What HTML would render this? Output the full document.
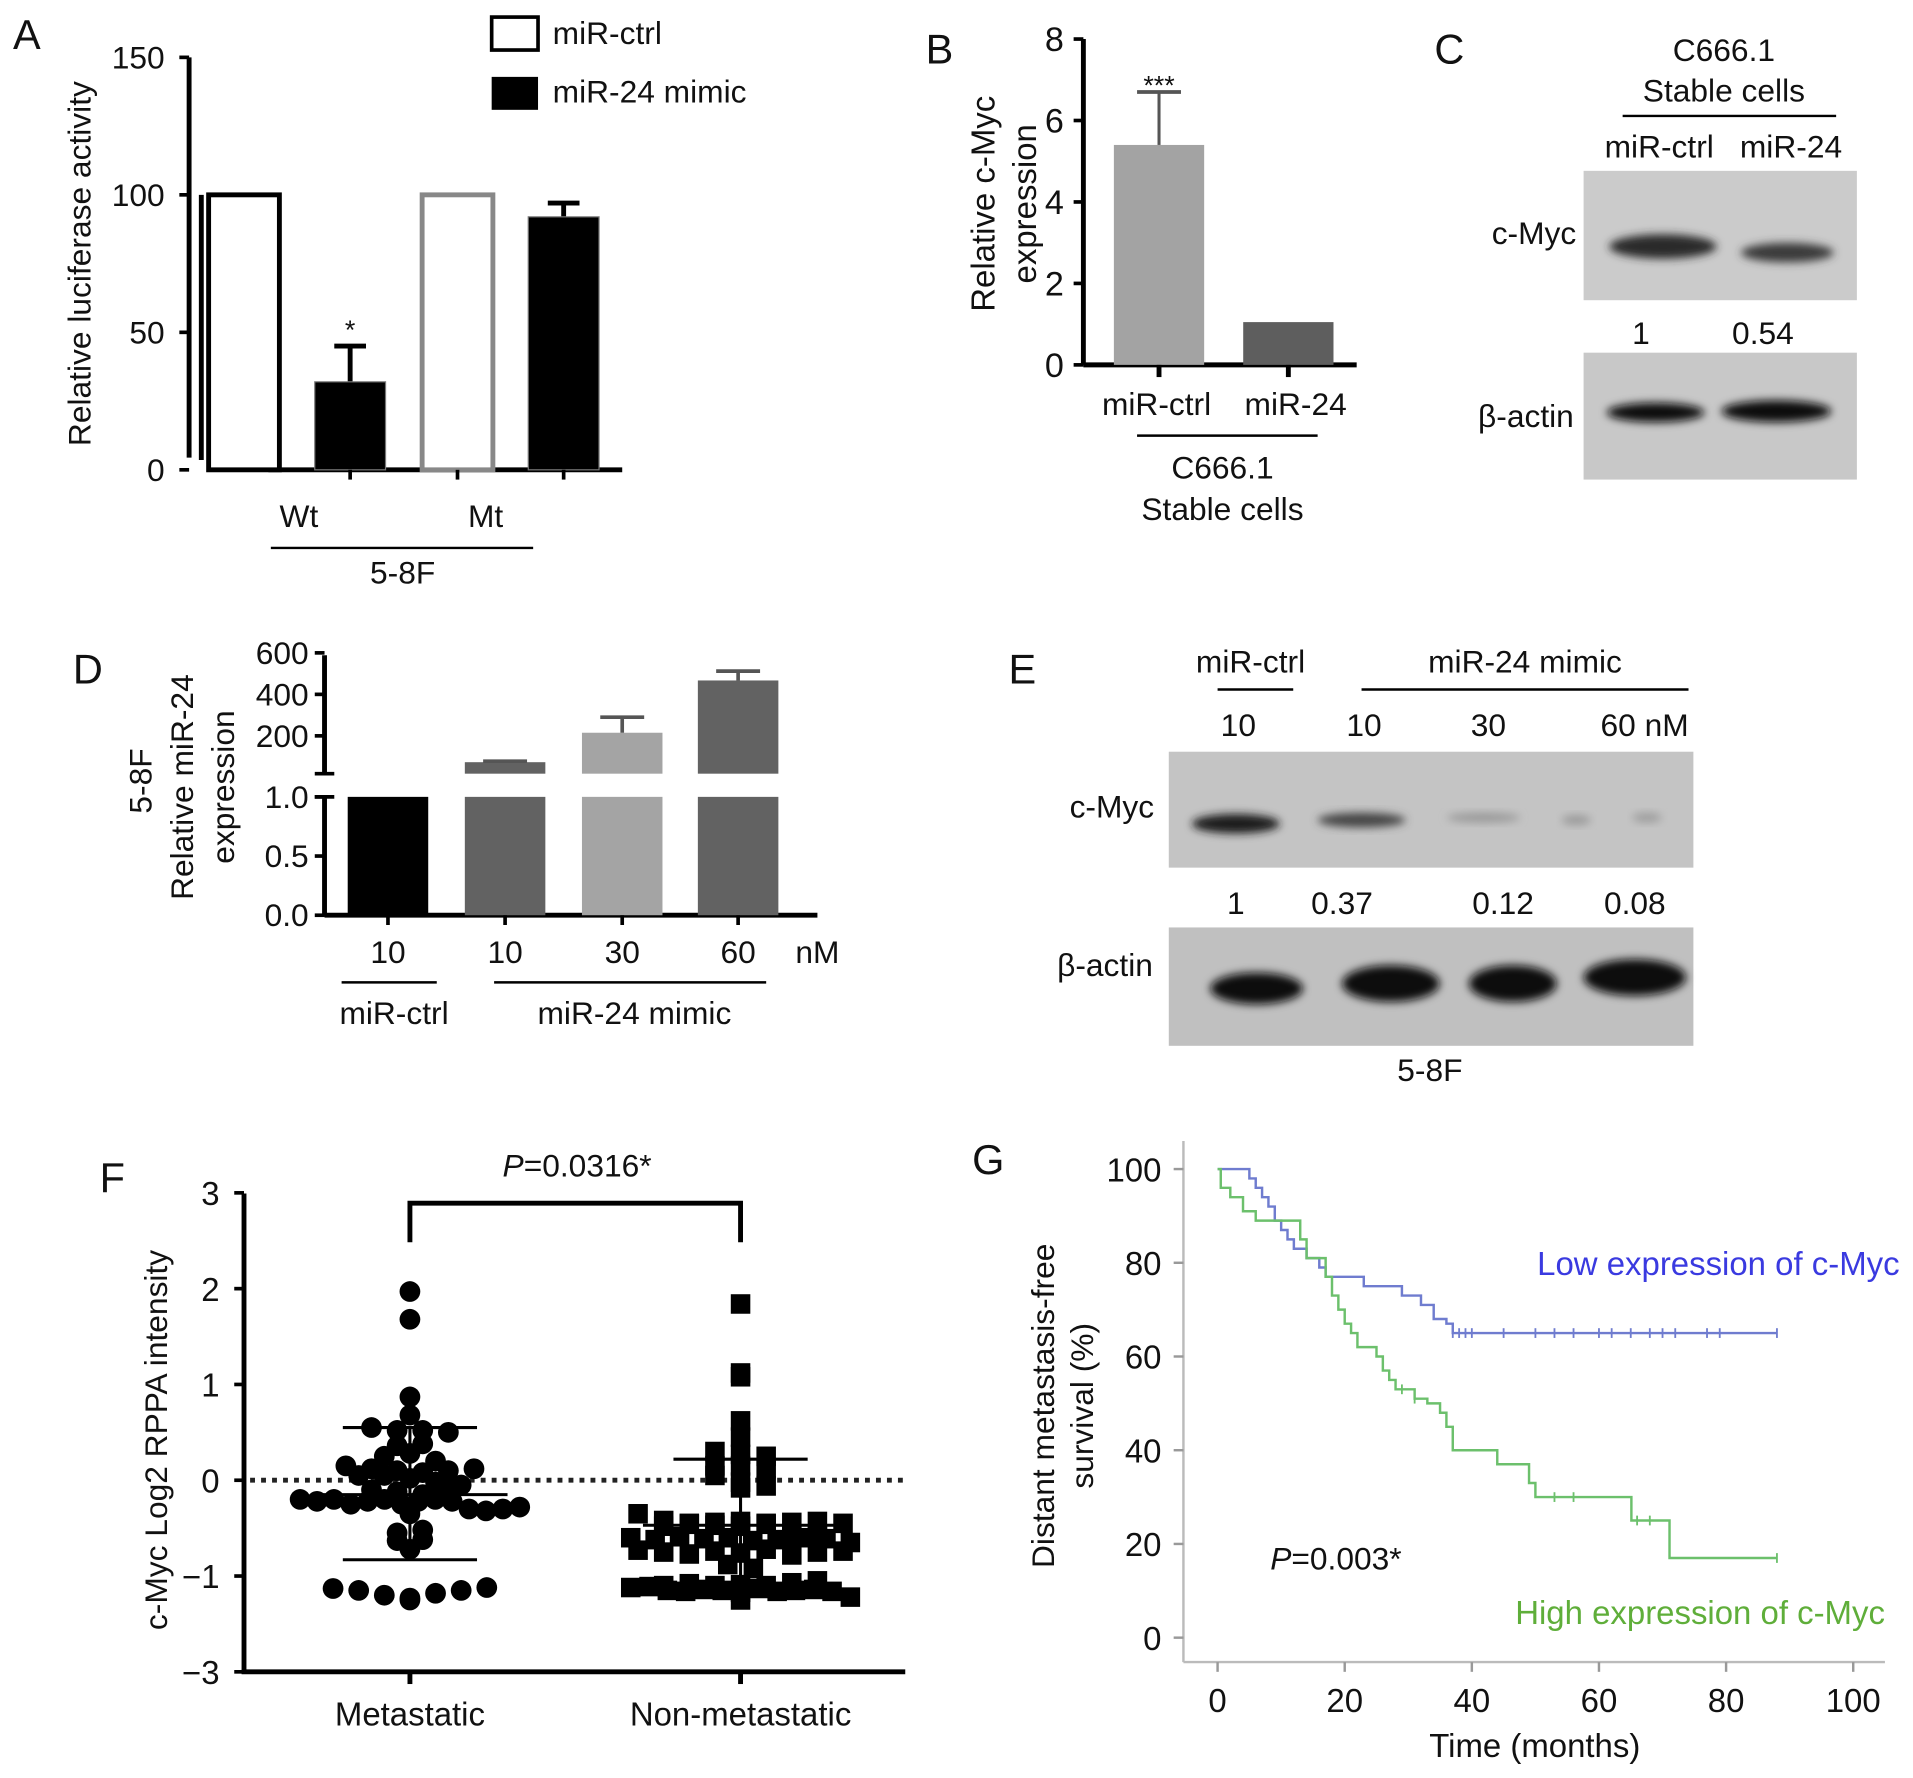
<!DOCTYPE html>
<html><head><meta charset="utf-8">
<style>
html,body{margin:0;padding:0;background:#fff;}
svg{display:block;}
text{font-family:"Liberation Sans",Arial,sans-serif;fill:#111;}
</style></head>
<body>
<svg id="fig" width="1913" height="1778" viewBox="0 0 1568 1457" preserveAspectRatio="none" xmlns="http://www.w3.org/2000/svg">
<defs>
<filter id="blur3" x="-20%" y="-50%" width="140%" height="200%"><feGaussianBlur stdDeviation="3.5"/></filter>
</defs>
<g id="root"></g>
</svg>
<script>
// ---------- Panel A data ----------
const aCategories = ["Wt", "Mt"];
const aCtrl = [100, 100];
const aMimic = [32, 92];
const aMimicErr = [45, 97];
const aTicks = [0, 50, 100, 150];
// ---------- Panel B data ----------
const bCategories = ["miR-ctrl", "miR-24"];
const bValues = [5.4, 1.05];
const bErr = [6.7, null];
const bTicks = [0, 2, 4, 6, 8];
// ---------- Panel D data ----------
const dLabels = ["10", "10", "30", "60"];
const dValues = [1.0, 73, 215, 467];
const dErr = [null, 78, 290, 512];
const dTicksLow = [0.0, 0.5, 1.0];
const dTicksHigh = [200, 400, 600];
// ---------- Panel F data ----------
const fGroups = ["Metastatic", "Non-metastatic"];
const fMetastatic = [1.97,1.68,0.87,0.68,0.55,0.52,0.52,0.5,0.36,0.38,0.25,0.28,0.2,0.15,0.12,0.1,0.08,0.05,0.1,0.12,0.05,0.02,-0.02,-0.05,-0.1,-0.12,-0.15,-0.1,-0.2,-0.22,-0.2,-0.25,-0.22,-0.2,-0.25,-0.22,-0.2,-0.22,-0.3,-0.32,-0.35,-0.3,-0.28,-0.55,-0.52,-0.63,-0.62,-0.72,-1.13,-1.15,-1.2,-1.25,-1.23,-1.18,-1.15,-1.12];
const fNonMetastatic = [1.84,1.12,1.08,0.62,0.45,0.3,0.27,0.25,0.15,0.15,0.12,0.05,-0.02,-0.06,-0.08,-0.35,-0.42,-0.45,-0.48,-0.44,-0.46,-0.43,-0.47,-0.45,-0.44,-0.48,-0.46,-0.43,-0.45,-0.58,-0.6,-0.62,-0.59,-0.61,-0.6,-0.63,-0.58,-0.62,-0.6,-0.61,-0.65,-0.73,-0.75,-0.77,-0.74,-0.76,-0.72,-0.78,-0.75,-0.74,-0.88,-0.92,-1.1,-1.08,-1.12,-1.1,-1.09,-1.11,-1.1,-1.07,-1.05,-1.15,-1.16,-1.14,-1.15,-1.17,-1.13,-1.16,-1.15,-1.14,-1.16,-1.25,-1.22];
const fMean = [-0.15, -0.47];
const fSdHigh = [0.55, 0.22];
const fSdLow = [-0.83, -1.17];
const fTicks = [3, 2, 1, 0, -1];
// ---------- Panel G data ----------
const gLowT = [0,4,5,6,7,8,9,10,11,12,14,16,17,22,23,28,29,32,34,36,37,88];
const gLowS = [100,100,98,96,94,92,89,87,85,83,81,79,77,77,75,75,73,71,68,67,65,65];
const gHighT = [0,0.5,2,4,6,12,13,14,17,18,19,20,21,22,25,26,27,28,31,33,35,36,37,43,44,48,49,50,65,65.1,71,71.1,88];
const gHighS = [100,96,94,91,89,89,85,81,77,73,70,67,65,62,60,57,55,53,51,50,48,45,40,40,37,37,33,30,30,25,25,17,17];
const gLowCensor = [37,38,39,40,45,50,53,56,60,62,65,68,70,72,77,79,88];
const gHighCensor = [29,31,53,56,66,68,88];
const gXTicks = [0,20,40,60,80,100];
const gYTicks = [0,20,40,60,80,100];

const NS = "http://www.w3.org/2000/svg";
const root = document.getElementById("root");
function el(tag, attrs, parent, txt){
  const e = document.createElementNS(NS, tag);
  for (const k in attrs) e.setAttribute(k, attrs[k]);
  if (txt !== undefined) e.textContent = txt;
  (parent || root).appendChild(e);
  return e;
}
function grp(name){ const g = el("g", {});   return g; }
function txt(g, x, y, s, size, anchor, extra){
  const a = {x:x, y:y, "font-size":size, "text-anchor":anchor||"middle"};
  if (extra) for (const k in extra) a[k]=extra[k];
  return el("text", a, g, s);
}
function line(g,x1,y1,x2,y2,w,c){ return el("line",{x1:x1,y1:y1,x2:x2,y2:y2,stroke:c||"#000","stroke-width":w||3},g); }

// ================= Panel A =================
(function(){
  const g = grp("panel-a");
  const y = v => 385 - (v/150)*338;
  txt(g, 22, 40, "A", 34);
  const ax = 155;
  line(g, ax, y(150), ax, y(0)-10, 4);
  line(g, 165, y(100), 165, y(0)-8, 4);
  aTicks.forEach(t => {
    line(g, ax-8, y(t), ax, y(t), 3);
    const lb = txt(g, 135, y(t)+9, String(t), 26, "end");
    
    
  });
  line(g, 220, 385, 510, 385, 4);
  const yt = txt(g, 0, 0, "Relative luciferase activity", 26, "middle", {transform:"translate(74,216) rotate(-90)"});
  
  
  const groupX = [200, 375];
  aCategories.forEach((c, i) => {
    const cx = groupX[i];
    const ctrl = el("rect", {x:cx-29, y:y(aCtrl[i]), width:58, height:y(0)-y(aCtrl[i]), fill:"#fff", stroke: i===0?"#000":"#888", "stroke-width":4}, g);
    
    
    const mx = cx + 87;
    el("line",{x1:mx,y1:y(aMimic[i]),x2:mx,y2:y(aMimicErr[i]),stroke:"#000","stroke-width":4},g);
    line(g, mx-13, y(aMimicErr[i]), mx+13, y(aMimicErr[i]), 4);
    const m = el("rect", {x:mx-29, y:y(aMimic[i]), width:58, height:y(0)-y(aMimic[i]), fill:"#000", stroke:"#777","stroke-width":1}, g);
    
    
    line(g, cx+87, 385, cx+87, 393, 3);
    const cl = txt(g, i===0?245:398, 432, c, 26);
    
    
  });
  line(g, 375, 385, 375, 393, 3);
  txt(g, 287, 278, "*", 22);
  line(g, 222, 449, 437, 449, 2);
  txt(g, 330, 478, "5-8F", 26);
  const lg = el("g", {}, g);
  
  
  el("rect",{x:403,y:14,width:38,height:27,fill:"#fff",stroke:"#000","stroke-width":3},lg);
  el("rect",{x:403,y:63,width:38,height:27,fill:"#000"},lg);
  txt(lg, 453, 36, "miR-ctrl", 26, "start");
  txt(lg, 453, 84, "miR-24 mimic", 26, "start");
})();

// ================= Panel B =================
(function(){
  const g = grp("panel-b");
  const y = v => 299 - (v/8)*267;
  txt(g, 770, 52, "B", 34);
  line(g, 888, y(8), 888, y(0), 4);
  bTicks.forEach(t => { line(g, 880, y(t), 888, y(t), 3); txt(g, 872, y(t)+10, String(t), 28, "end"); });
  line(g, 888, 299, 1112, 299, 4);
  const colors = ["#a3a3a3", "#5e5e5e"];
  const cx = [950, 1056];
  bCategories.forEach((c,i)=>{
    const r = el("rect",{x:cx[i]-37,y:y(bValues[i]),width:74,height:y(0)-y(bValues[i]),fill:colors[i]},g);
    
    
    if (bErr[i]!==null){ line(g,cx[i],y(bValues[i]),cx[i],y(bErr[i]),2.5,"#555"); line(g,cx[i]-18,y(bErr[i]),cx[i]+18,y(bErr[i]),3,"#555"); txt(g,cx[i],y(bErr[i])+2,"***",22); }
    line(g, cx[i], 299, cx[i], 309, 4);
    txt(g, i===0?948:1062, 340, c, 26);
  });
  el("text",{x:0,y:0,"font-size":27,"text-anchor":"middle",transform:"translate(815,167) rotate(-90)"},g,"Relative c-Myc");
  el("text",{x:0,y:0,"font-size":27,"text-anchor":"middle",transform:"translate(849,167) rotate(-90)"},g,"expression");
  line(g, 932, 357, 1080, 357, 2);
  txt(g, 1002, 392, "C666.1", 26);
  txt(g, 1002, 426, "Stable cells", 26);
})();

// ================= Panel C (western blot) =================
(function(){
  const g = grp("panel-c");
  txt(g, 1188, 52, "C", 34);
  txt(g, 1413, 50, "C666.1", 26);
  txt(g, 1413, 83, "Stable cells", 26);
  line(g, 1330, 95, 1505, 95, 2);
  txt(g, 1360, 129, "miR-ctrl", 26);
  txt(g, 1468, 129, "miR-24", 26);
  const b1 = el("rect",{x:1298,y:140,width:224,height:106,fill:"#cbcbcb"},g);
   
  el("ellipse",{cx:1363,cy:202,rx:44,ry:10,fill:"#2a2a2a",filter:"url(#blur3)"},g);
  el("ellipse",{cx:1465,cy:207,rx:38,ry:8,fill:"#3a3a3a",filter:"url(#blur3)"},g);
  txt(g, 1292, 200, "c-Myc", 26, "end");
  txt(g, 1345, 282, "1", 26); txt(g, 1445, 282, "0.54", 26);
  const b2 = el("rect",{x:1298,y:289,width:224,height:104,fill:"#c8c8c8"},g);
   
  el("ellipse",{cx:1357,cy:338,rx:40,ry:8,fill:"#111",filter:"url(#blur3)"},g);
  el("ellipse",{cx:1456,cy:337,rx:45,ry:9,fill:"#111",filter:"url(#blur3)"},g);
  txt(g, 1290, 350, "β-actin", 26, "end");
})();

// ================= Panel D =================
(function(){
  const g = grp("panel-d");
  const yLow = v => 750 - (v/1.0)*97;
  const yHigh = v => 637 - (v/200)*34;
  txt(g, 72, 560, "D", 34);
  line(g, 266, 537, 266, 634, 4);
  line(g, 266, 653, 266, 750, 4);
  line(g, 258, 634, 274, 634, 3);
  line(g, 258, 653, 274, 653, 3);
  dTicksHigh.forEach(t=>{ line(g,258,yHigh(t),266,yHigh(t),3); txt(g,253,yHigh(t)+9,String(t),26,"end"); });
  dTicksLow.forEach(t=>{ line(g,258,yLow(t),266,yLow(t),3); txt(g,253,yLow(t)+9,t.toFixed(1),26,"end"); });
  line(g, 266, 750, 670, 750, 4);
  const colors = ["#000","#626262","#a4a4a4","#626262"];
  const cx = [318, 414, 510, 605];
  dValues.forEach((v,i)=>{
    const lowTop = yLow(Math.min(v,1.0));
    const r = el("rect",{x:cx[i]-33,y:lowTop,width:66,height:750-lowTop,fill:colors[i]},g);
    
    
    if (v > 1.0){
      el("rect",{x:cx[i]-33,y:yHigh(v),width:66,height:634-yHigh(v),fill:colors[i]},g);
      if (dErr[i]!==null){ line(g,cx[i],yHigh(v),cx[i],yHigh(dErr[i]),3,"#555"); line(g,cx[i]-18,yHigh(dErr[i]),cx[i]+18,yHigh(dErr[i]),3,"#555"); }
    }
    line(g, cx[i], 750, cx[i], 758, 3);
    txt(g, cx[i], 789, dLabels[i], 26);
  });
  txt(g, 670, 789, "nM", 26);
  line(g, 280, 805, 358, 805, 2);
  line(g, 405, 805, 628, 805, 2);
  txt(g, 323, 839, "miR-ctrl", 26);
  txt(g, 520, 839, "miR-24 mimic", 26);
  el("text",{x:0,y:0,"font-size":26,"text-anchor":"middle",transform:"translate(124,640) rotate(-90)"},g,"5-8F");
  el("text",{x:0,y:0,"font-size":26,"text-anchor":"middle",transform:"translate(158,645) rotate(-90)"},g,"Relative miR-24");
  el("text",{x:0,y:0,"font-size":26,"text-anchor":"middle",transform:"translate(192,645) rotate(-90)"},g,"expression");
})();

// ================= Panel E (western blot) =================
(function(){
  const g = grp("panel-e");
  txt(g, 838, 560, "E", 34);
  txt(g, 1025, 551, "miR-ctrl", 26);
  txt(g, 1250, 551, "miR-24 mimic", 26);
  line(g, 998, 565, 1060, 565, 2);
  line(g, 1116, 565, 1384, 565, 2);
  txt(g, 1015, 603, "10", 26); txt(g, 1118, 603, "10", 26); txt(g, 1220, 603, "30", 26); txt(g, 1348, 603, "60 nM", 26);
  const b1 = el("rect",{x:958,y:616,width:430,height:95,fill:"#c4c4c4"},g);
   
  el("ellipse",{cx:1013,cy:675,rx:36,ry:8,fill:"#1a1a1a",filter:"url(#blur3)"},g);
  el("ellipse",{cx:1116,cy:672,rx:36,ry:6,fill:"#444",filter:"url(#blur3)"},g);
  el("ellipse",{cx:1216,cy:670,rx:30,ry:4,fill:"#999",filter:"url(#blur3)"},g);
  el("ellipse",{cx:1292,cy:672,rx:12,ry:4,fill:"#999",filter:"url(#blur3)"},g);
  el("ellipse",{cx:1350,cy:670,rx:12,ry:4,fill:"#9d9d9d",filter:"url(#blur3)"},g);
  txt(g, 946, 670, "c-Myc", 26, "end");
  txt(g, 1013, 749, "1", 26); txt(g, 1100, 749, "0.37", 26); txt(g, 1232, 749, "0.12", 26); txt(g, 1340, 749, "0.08", 26);
  const b2 = el("rect",{x:958,y:760,width:430,height:97,fill:"#c0c0c0"},g);
   
  el("ellipse",{cx:1030,cy:810,rx:38,ry:13,fill:"#111",filter:"url(#blur3)"},g);
  el("ellipse",{cx:1140,cy:806,rx:40,ry:15,fill:"#111",filter:"url(#blur3)"},g);
  el("ellipse",{cx:1240,cy:806,rx:36,ry:15,fill:"#111",filter:"url(#blur3)"},g);
  el("ellipse",{cx:1340,cy:801,rx:42,ry:15,fill:"#111",filter:"url(#blur3)"},g);
  txt(g, 945, 800, "β-actin", 26, "end");
  txt(g, 1172, 886, "5-8F", 26);
})();

// ================= Panel F =================
(function(){
  const g = grp("panel-f");
  const y = v => 1213 - v*78.5;
  txt(g, 92, 977, "F", 34);
  line(g, 200, 978, 200, 1370, 4);
  line(g, 198, 1370, 742, 1370, 4);
  fTicks.forEach(t=>{ line(g,192,y(t),200,y(t),3); txt(g,180,y(t)+10,t<0?"\u2212"+Math.abs(t):String(t),27,"end"); });
  line(g,192,1370,200,1370,3); txt(g,180,1380,"\u22123",27,"end");
  el("line",{x1:205,y1:1213,x2:740,y2:1213,stroke:"#222","stroke-width":4,"stroke-dasharray":"4 5"},g);
  const yt = el("text",{x:0,y:0,"font-size":26,"text-anchor":"middle",transform:"translate(137,1180) rotate(-90)"},g,"c-Myc Log2 RPPA intensity");
   
  const gx = [336, 607];
  el("path",{d:"M336,1018 V986 H607 V1018",fill:"none",stroke:"#000","stroke-width":4},g);
  const pt = el("text",{x:473,y:964,"font-size":26,"text-anchor":"middle"},g);
  el("tspan",{"font-style":"italic"},pt,"P");
  el("tspan",{},pt,"=0.0316*");
  const series = [fMetastatic, fNonMetastatic];
  series.forEach((vals, gi)=>{
    // bin values into rows, spread each row horizontally within a limited width
    const bins = {};
    vals.forEach(v=>{ const k = Math.round(v/0.13); (bins[k] = bins[k] || []).push(v); });
    Object.keys(bins).forEach(k=>{
      const row = bins[k];
      const n = row.length;
      const sp = n > 1 ? Math.min(21, 180/(n-1)) : 0;
      row.forEach((v, j)=>{
        const off = (j - (n-1)/2) * sp;
        const py = y(v);
        let m;
        if (gi===0) m = el("circle",{cx:gx[gi]+off,cy:py,r:8.5,fill:"#000"},g);
        else m = el("rect",{x:gx[gi]+off-8,y:py-8,width:16,height:16,fill:"#000"},g);
        
        
      });
    });
    line(g, gx[gi], y(fSdHigh[gi]), gx[gi], y(fSdLow[gi]), 2.5);
    line(g, gx[gi]-55, y(fSdHigh[gi]), gx[gi]+55, y(fSdHigh[gi]), 2.5);
    line(g, gx[gi]-80, y(fMean[gi]), gx[gi]+80, y(fMean[gi]), 2.5);
    line(g, gx[gi]-55, y(fSdLow[gi]), gx[gi]+55, y(fSdLow[gi]), 2.5);
    line(g, gx[gi], 1370, gx[gi], 1380, 4);
    txt(g, gx[gi], 1414, fGroups[gi], 27);
  });
})();

// ================= Panel G =================
(function(){
  const g = grp("panel-g");
  const x = t => 998 + t*5.21;
  const y = s => 1342 - s*3.84;
  txt(g, 810, 962, "G", 34);
  line(g, 970, 935, 970, 1362, 2, "#bbb");
  line(g, 970, 1362, 1545, 1362, 2, "#bbb");
  gYTicks.forEach(t=>{ line(g,962,y(t),970,y(t),2,"#999"); txt(g,952,y(t)+10,String(t),27,"end"); });
  gXTicks.forEach(t=>{ line(g,x(t),1362,x(t),1370,2,"#999"); txt(g,x(t),1403,String(t),27); });
  el("text",{x:0,y:0,"font-size":26,"text-anchor":"middle",transform:"translate(864,1152) rotate(-90)"},g,"Distant metastasis-free");
  el("text",{x:0,y:0,"font-size":26,"text-anchor":"middle",transform:"translate(896,1152) rotate(-90)"},g,"survival (%)");
  txt(g, 1258, 1440, "Time (months)", 27);
  function step(T,S){ let d = "M"+x(T[0])+","+y(S[0]); for (let i=1;i<T.length;i++){ d += " H"+x(T[i])+" V"+y(S[i]); } return d; }
  const lowP = el("path",{d:step(gLowT,gLowS),fill:"none",stroke:"#6f7ccf","stroke-width":2},g);
   
  const highP = el("path",{d:step(gHighT,gHighS),fill:"none",stroke:"#6cc06c","stroke-width":2},g);
   
  gLowCensor.forEach(t=>{ line(g,x(t),y(65)-4,x(t),y(65)+4,1.5,"#6f7ccf"); });
  gHighCensor.forEach(t=>{ let s=gHighS[0]; for(let i=0;i<gHighT.length;i++){ if(gHighT[i]<=t) s=gHighS[i]; } line(g,x(t),y(s)-4,x(t),y(s)+4,1.5,"#6cc06c"); });
  const l1 = txt(g, 1557, 1045, "Low expression of c-Myc", 27, "end", {style:"fill:#3a3ae0"});
   
  const l2 = txt(g, 1545, 1331, "High expression of c-Myc", 27, "end", {style:"fill:#5fae3a"});
   
  const pt = el("text",{x:1095,y:1286,"font-size":26,"text-anchor":"middle"},g);
  el("tspan",{"font-style":"italic"},pt,"P");
  el("tspan",{},pt,"=0.003*");
})();
</script>
</body></html>
